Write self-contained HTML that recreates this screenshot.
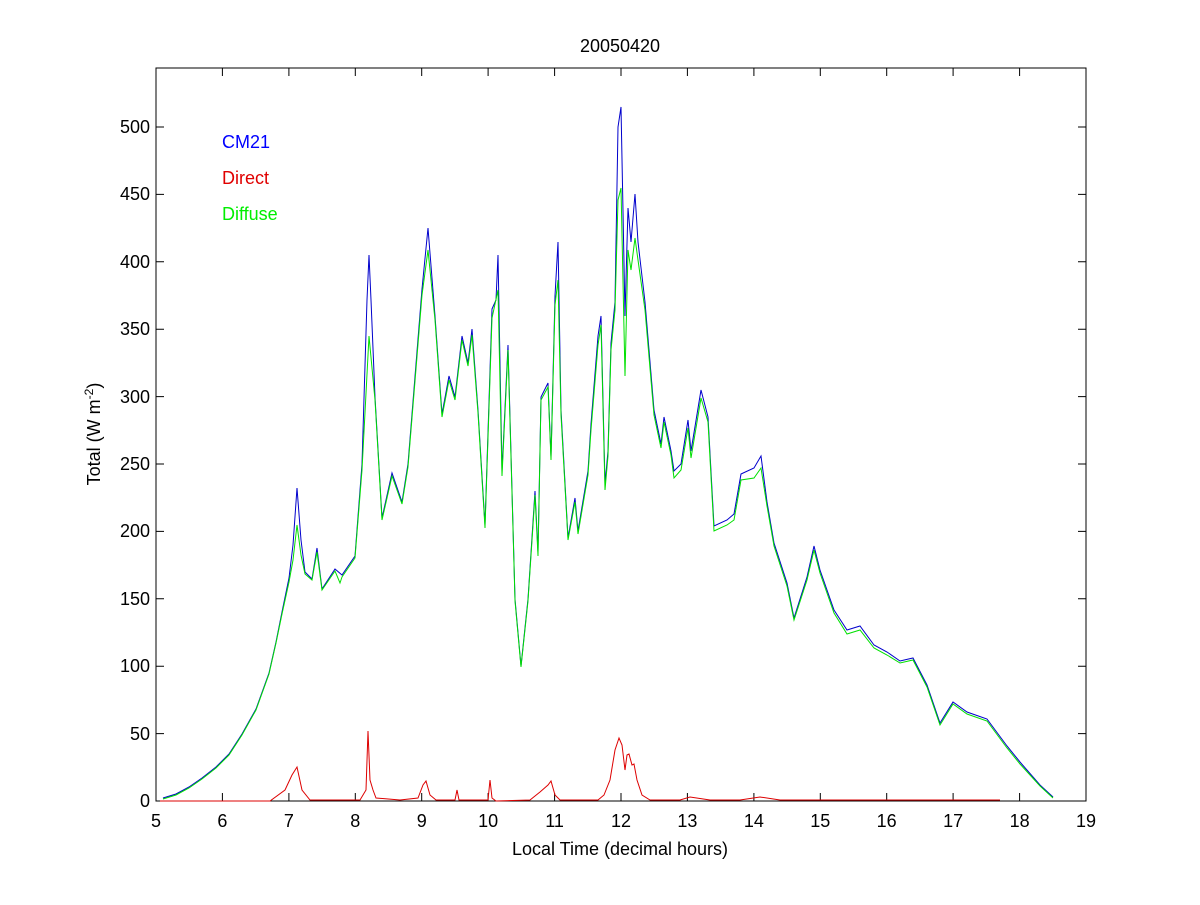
<!DOCTYPE html>
<html><head><meta charset="utf-8"><style>
body{margin:0;background:#fff}
svg text{font-family:"Liberation Sans",sans-serif;font-size:18px;fill:#000}
</style></head><body>
<svg width="1200" height="900" xmlns="http://www.w3.org/2000/svg">
<rect width="1200" height="900" fill="#fff"/>
<rect x="156" y="68" width="930" height="733" fill="#fff" stroke="#000" stroke-width="1"/>
<g stroke="#000" stroke-width="1">
<path d="M156 801v-8M222.4 801v-8M288.9 801v-8M355.3 801v-8M421.7 801v-8M488.1 801v-8M554.6 801v-8M621 801v-8M687.4 801v-8M753.9 801v-8M820.3 801v-8M886.7 801v-8M953.1 801v-8M1019.6 801v-8M1086 801v-8"/>
<path d="M156 68v8M222.4 68v8M288.9 68v8M355.3 68v8M421.7 68v8M488.1 68v8M554.6 68v8M621 68v8M687.4 68v8M753.9 68v8M820.3 68v8M886.7 68v8M953.1 68v8M1019.6 68v8"/>
<path d="M156 801h8M156 733.6h8M156 666.2h8M156 598.8h8M156 531.4h8M156 464h8M156 396.6h8M156 329.2h8M156 261.8h8M156 194.4h8M156 127h8"/>
<path d="M1086 801h-8M1086 733.6h-8M1086 666.2h-8M1086 598.8h-8M1086 531.4h-8M1086 464h-8M1086 396.6h-8M1086 329.2h-8M1086 261.8h-8M1086 194.4h-8M1086 127h-8"/>
</g>
<g text-anchor="middle">
<text x="156" y="827">5</text><text x="222.4" y="827">6</text><text x="288.9" y="827">7</text><text x="355.3" y="827">8</text><text x="421.7" y="827">9</text><text x="488.1" y="827">10</text><text x="554.6" y="827">11</text><text x="621" y="827">12</text><text x="687.4" y="827">13</text><text x="753.9" y="827">14</text><text x="820.3" y="827">15</text><text x="886.7" y="827">16</text><text x="953.1" y="827">17</text><text x="1019.6" y="827">18</text><text x="1086" y="827">19</text>
<text x="620" y="855">Local Time (decimal hours)</text>
<text x="620" y="52">20050420</text>
</g>
<g text-anchor="end">
<text x="150" y="807">0</text><text x="150" y="740">50</text><text x="150" y="672">100</text><text x="150" y="605">150</text><text x="150" y="537">200</text><text x="150" y="470">250</text><text x="150" y="403">300</text><text x="150" y="335">350</text><text x="150" y="268">400</text><text x="150" y="200">450</text><text x="150" y="133">500</text>
</g>
<text transform="translate(100,434) rotate(-90)" text-anchor="middle">Total (W m<tspan dy="-7" font-size="12">-2</tspan><tspan dy="7">)</tspan></text>
<text x="222" y="148" style="fill:#0000ff">CM21</text>
<text x="222" y="184" style="fill:#e00000">Direct</text>
<text x="222" y="220" style="fill:#00ee00">Diffuse</text>
<polyline fill="none" stroke="#0000cc" stroke-width="1" points="163,798 176,794 189,787 202,778 216,767 229,754 242,734 256,709 269,673 276,642 282,612 289,578 293,545 297,488 301,540 305,572 312,579 317,548 322,589 335,569 342,575 355,556 362,464 367,300 369,255 371,300 375,397 382,518 392,473 402,502 408,464 422,289 428,228 435,316 442,414 449,376 455,397 462,336 468,363 472,329 478,410 485,525 492,309 496,300 498,255 502,471 508,345 515,599 521,666 528,599 535,491 538,552 541,397 548,383 551,457 555,296 558,242 561,410 568,538 575,498 578,531 588,471 591,424 598,336 601,316 605,484 608,451 611,343 615,302 618,127 621,107 625,316 628,208 631,242 635,194 638,242 645,302 654,410 661,444 664,417 671,451 674,471 681,464 688,420 691,451 701,390 708,417 714,526 727,520 734,514 741,474 754,468 761,456 767,502 774,543 787,583 794,618 807,577 814,546 820,570 834,610 847,630 860,626 874,645 887,652 900,661 913,658 927,685 940,723 953,702 967,712 987,719 1007,746 1020,762 1040,785 1053,797"/>
<polyline fill="none" stroke="#00e000" stroke-width="1" points="163,799 176,795 189,788 202,779 216,768 229,755 242,735 256,710 269,674 276,643 282,614 289,582 293,560 297,525 301,555 305,574 312,580 317,552 322,590 335,571 340,583 342,577 355,558 362,470 369,336 375,400 382,520 392,476 402,504 408,467 422,295 428,250 435,320 442,417 449,380 455,400 462,340 468,366 472,335 478,413 485,528 492,318 498,290 502,476 508,350 515,601 521,667 528,601 535,495 538,556 541,400 548,387 551,460 555,305 558,280 561,415 568,540 575,502 578,534 588,475 591,430 598,345 601,325 605,490 608,456 611,350 615,310 618,200 621,188 625,376 628,250 631,270 635,238 638,260 645,310 654,415 661,448 664,422 671,455 674,478 681,470 688,428 691,458 701,398 708,422 714,531 727,525 734,520 741,480 754,478 761,468 767,506 774,546 787,586 794,620 807,580 814,550 820,573 834,613 847,634 860,630 874,648 887,655 900,663 913,660 927,687 940,725 953,704 967,714 987,721 1007,748 1020,764 1040,786 1053,798"/>
<polyline fill="none" stroke="#dd0000" stroke-width="1" points="160,801 270,801 285,790 292,775 297,767 302,790 310,800 360,800 366,790 368,731 370,780 373,790 376,798 400,800 418,798 423,785 426,781 430,795 436,800 455,800 457,790 459,800 488,800 490,780 492,798 496,801 530,800 540,792 548,785 551,781 555,795 560,800 598,800 604,795 610,780 615,750 619,738 622,745 625,770 627,755 629,754 632,765 634,764 637,780 642,795 650,800 680,800 690,797 710,800 740,800 760,797 780,800 1000,800"/>
</svg>
</body></html>
